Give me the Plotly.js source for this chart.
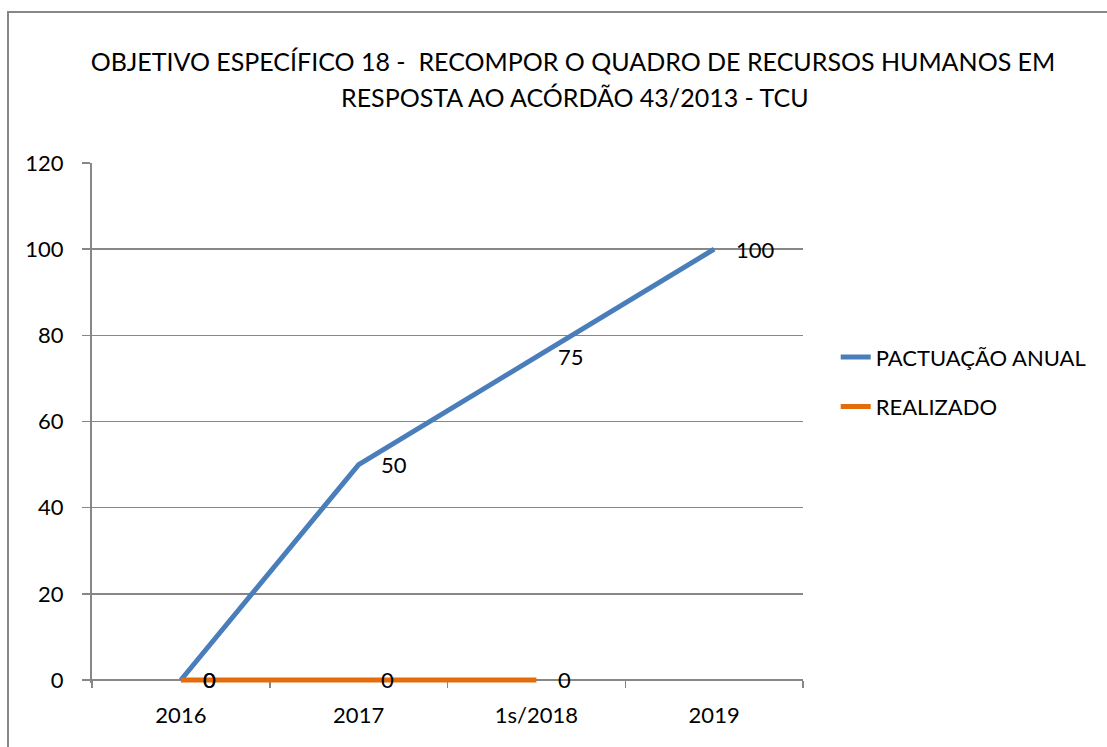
<!DOCTYPE html>
<html>
<head>
<meta charset="utf-8">
<script src="https://cdn.plot.ly/plotly-3.0.1.min.js"></script>
<style>
  html, body { margin: 0; padding: 0; background: #fff; }
  #chart { width: 1107px; height: 747px; position: absolute; left: 0; top: 0; }
  #frame { position: absolute; left: 7px; top: 11px; width: 1110px; height: 760px;
           border-left: 2px solid #878787; border-top: 2px solid #878787; pointer-events: none; }
</style>
</head>
<body>
<div id="chart"></div>
<div id="frame"></div>
<script>
const categories = ["2016", "2017", "1s/2018", "2019"];
const pactuacao = [0, 50, 75, 100];
const realizado = [0, 0, 0];
const seriesNames = ["PACTUAÇÃO ANUAL", "REALIZADO"];
const titleLines = ["OBJETIVO ESPECÍFICO 18 -  RECOMPOR O QUADRO DE RECURSOS HUMANOS EM", "RESPOSTA AO ACÓRDÃO 43/2013 - TCU"];
const yTicks = [0, 20, 40, 60, 80, 100, 120];

const FONT = "Lato, 'Open Sans', sans-serif";
const BLUE = "#4a7ebb";
const ORANGE = "#e46c0a";
const GRID = "#878787";
const FS = 22;

const W = 1107, H = 747, ML = 92, MR = 304, MT = 163, MB = 64;
const YMIN = -0.7, YMAX = 120;

const traces = [
  { x: categories, y: pactuacao, name: seriesNames[0], type: "scatter", mode: "lines",
    line: { color: BLUE, width: 5 }, legendgroup: "a", hoverinfo: "skip" },
  { x: categories.slice(0, realizado.length), y: realizado, name: seriesNames[1], type: "scatter", mode: "lines",
    line: { color: ORANGE, width: 5 }, legendgroup: "b", hoverinfo: "skip" }
];

const annotations = [];
function addLabels(ys) {
  ys.forEach((v, i) => annotations.push({
    x: i, y: v, xref: "x", yref: "y", text: String(v), showarrow: false,
    xanchor: "left", yanchor: "middle", xshift: 20, yshift: 0,
    font: { family: FONT, size: FS, color: "#000" }
  }));
}
addLabels(pactuacao);
addLabels(realizado);

const plotW = W - ML - MR, plotH = H - MT - MB;
const title1Center = 573, title2Center = 575;
annotations.push({
  x: (title2Center - ML) / plotW, y: (H - MB - 97) / plotH, xref: "paper", yref: "paper",
  text: titleLines[1], showarrow: false,
  font: { family: FONT, size: 25, color: "#000" }, xanchor: "center", yanchor: "middle"
});

const layout = {
  width: W, height: H,
  margin: { l: ML, r: MR, t: MT, b: MB },
  paper_bgcolor: "#fff", plot_bgcolor: "#fff",
  font: { family: FONT, size: FS, color: "#000" },
  title: { text: titleLines[0], x: title1Center / W, xref: "container", xanchor: "center",
           y: 1 - 62 / H, yref: "container", yanchor: "middle",
           font: { family: FONT, size: 25, color: "#000" } },
  xaxis: {
    type: "category", categoryorder: "array", categoryarray: categories,
    range: [-0.5, 3.5], showgrid: false, zeroline: false,
    anchor: "free", position: (0 - YMIN) / (YMAX - YMIN),
    showline: true, linecolor: GRID, linewidth: 2, layer: "below traces",
    ticks: "outside", tickson: "boundaries", ticklen: 7, tickcolor: GRID, tickwidth: 1.5,
    tickfont: { family: FONT, size: FS, color: "#000" }, ticklabelstandoff: 16
  },
  yaxis: {
    range: [YMIN, YMAX], tickvals: yTicks, ticktext: yTicks.map(String),
    showgrid: true, gridcolor: GRID, gridwidth: 1.5, zeroline: false,
    showline: true, linecolor: GRID, linewidth: 2, layer: "below traces",
    ticks: "outside", ticklen: 8, tickcolor: GRID, tickwidth: 1.5,
    tickfont: { family: FONT, size: FS, color: "#000" }, ticklabelstandoff: 14
  },
  showlegend: true,
  legend: {
    x: 1.046, xanchor: "left", y: 0.667, yanchor: "top",
    font: { family: FONT, size: FS, color: "#000" },
    tracegroupgap: 18, bgcolor: "rgba(0,0,0,0)", borderwidth: 0
  },
  annotations: annotations
};

Plotly.newPlot("chart", traces, layout, { staticPlot: true, displayModeBar: false });
</script>
</body>
</html>
